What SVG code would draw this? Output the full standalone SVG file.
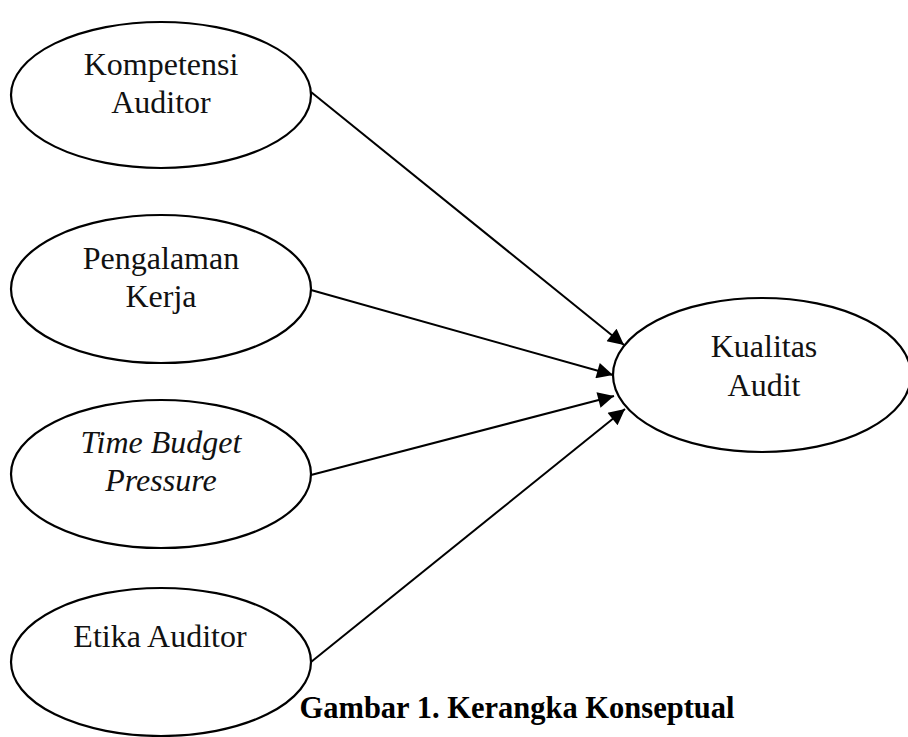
<svg xmlns="http://www.w3.org/2000/svg" width="908" height="737" viewBox="0 0 908 737">
<style>
.node{fill:#fff;stroke:#000;stroke-width:2.2}
.lbl{font-family:"Liberation Serif","DejaVu Serif",serif;font-size:32px;fill:#111;text-anchor:middle}
.it{font-style:italic}
.cap{font-family:"Liberation Serif","DejaVu Serif",serif;font-size:30.5px;font-weight:bold;fill:#000;text-anchor:middle}
.edge{stroke:#000;stroke-width:2;fill:none;marker-end:url(#ah)}
</style>
<defs>
<marker id="ah" viewBox="0 0 10 10" refX="10" refY="5" markerWidth="10" markerHeight="8" markerUnits="strokeWidth" orient="auto">
<path d="M0,0 L10,5 L0,10 z" fill="#000"/>
</marker>
</defs>
<rect width="908" height="737" fill="#fff"/>
<g id="connectors">
<line class="edge" x1="311" y1="92" x2="624" y2="345"/>
<line class="edge" x1="311" y1="290" x2="613" y2="375"/>
<line class="edge" x1="311" y1="475" x2="614" y2="396"/>
<line class="edge" x1="311" y1="662" x2="625" y2="409"/>
</g>
<g id="kompetensi">
<ellipse class="node" cx="161" cy="95" rx="150" ry="73"/>
<text class="lbl" x="161" y="75">Kompetensi</text>
<text class="lbl" x="161" y="113">Auditor</text>
</g>
<g id="pengalaman">
<ellipse class="node" cx="161" cy="289" rx="150" ry="74"/>
<text class="lbl" x="161" y="269">Pengalaman</text>
<text class="lbl" x="161" y="307">Kerja</text>
</g>
<g id="timebudget">
<ellipse class="node" cx="161" cy="474" rx="150" ry="74"/>
<text class="lbl it" x="161" y="453">Time Budget</text>
<text class="lbl it" x="161" y="491">Pressure</text>
</g>
<g id="etika">
<ellipse class="node" cx="161" cy="662" rx="150" ry="74"/>
<text class="lbl" x="160" y="647">Etika Auditor</text>
</g>
<g id="kualitas">
<ellipse class="node" cx="762" cy="375" rx="149" ry="77"/>
<text class="lbl" x="764" y="357">Kualitas</text>
<text class="lbl" x="764" y="396">Audit</text>
</g>
<text class="cap" x="517" y="718">Gambar 1. Kerangka Konseptual</text>
</svg>
